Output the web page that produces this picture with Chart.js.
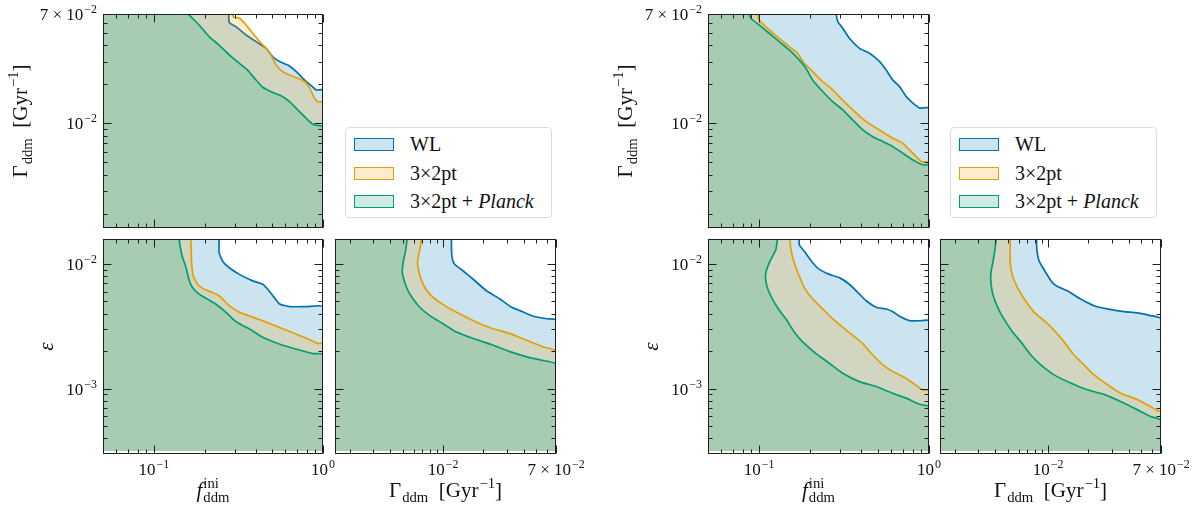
<!DOCTYPE html>
<html>
<head>
<meta charset="utf-8">
<title>Decaying dark matter constraints</title>
<script src="https://cdn.jsdelivr.net/npm/chart.js@4.4.1/dist/chart.umd.min.js"></script>
<style>
  html, body { margin: 0; padding: 0; background: #fff; }
  #figure { position: relative; width: 1200px; height: 511px; overflow: hidden; }
  #figure canvas { position: absolute; left: 0; top: 0; pointer-events: none; }
  .legend {
    position: absolute; width: 205px; height: 89px;
    border: 1px solid #dcdcdc; border-radius: 4px; background: #fff;
    font: 20px "Liberation Serif", "DejaVu Serif", serif; color: #111;
  }
  .legend .entry { position: absolute; left: 8px; height: 22px; display: flex; align-items: center; white-space: nowrap; }
  .legend .patch { display: inline-block; width: 38px; height: 11px; border: 1.5px solid; margin-right: 16px; }
</style>
</head>
<body>
<div id="figure">
  <canvas id="leftTop" width="1200" height="511"></canvas>
  <canvas id="leftBottom" width="1200" height="511"></canvas>
  <canvas id="leftSide" width="1200" height="511"></canvas>
  <canvas id="rightTop" width="1200" height="511"></canvas>
  <canvas id="rightBottom" width="1200" height="511"></canvas>
  <canvas id="rightSide" width="1200" height="511"></canvas>
  <div class="legend" style="left:345px; top:127px;"></div>
  <div class="legend" style="left:950px; top:127px;"></div>
</div>
<script>
// Axis ranges and tick values
const fRange = [0.05, 1];
const gammaRange = [1.55e-3, 7e-2];
const epsRange = [3.16e-4, 1.58e-2];

const fMajorTicks = [0.1, 1];
const fMinorTicks = [0.06, 0.07, 0.08, 0.09, 0.2, 0.3, 0.4, 0.5, 0.6, 0.7, 0.8, 0.9];
const fTickLabels = [['10', '−1'], ['10', '0']];

const gammaMajorTicks = [0.01, 0.07];
const gammaMinorTicks = [0.002, 0.003, 0.004, 0.005, 0.006, 0.007, 0.008, 0.009, 0.02, 0.03, 0.04, 0.05, 0.06];
const gammaTickLabels = [['10', '−2'], ['7 × 10', '−2']];

const epsMajorTicks = [0.001, 0.01];
const epsMinorTicks = [0.0004, 0.0005, 0.0006, 0.0007, 0.0008, 0.0009, 0.002, 0.003, 0.004, 0.005, 0.006, 0.007, 0.008, 0.009];
const epsTickLabels = [['10', '−3'], ['10', '−2']];

const seriesNames = ['WL', '3×2pt', '3×2pt + Planck'];
const lineColors = ['#0072B2', '#E69F00', '#009E73'];
const fillColors = ['rgba(0,114,178,0.2)', 'rgba(230,159,0,0.2)', 'rgba(0,158,115,0.2)'];

// Left figure: f_ddm^ini vs Gamma_ddm  [f, Gamma]
const leftFG_WL = [[0.277,0.0700],[0.279,0.0600],[0.306,0.0558],[0.351,0.0482],[0.402,0.0428],[0.461,0.0380],[0.505,0.0327],[0.553,0.0300],[0.620,0.0282],[0.695,0.0251],[0.778,0.0216],[0.853,0.0195],[0.912,0.0181],[1.0,0.0181]];
const leftFG_3x2 = [[0.292,0.0700],[0.296,0.0661],[0.320,0.0649],[0.351,0.0576],[0.384,0.0497],[0.431,0.0416],[0.461,0.0380],[0.493,0.0338],[0.528,0.0282],[0.578,0.0251],[0.634,0.0236],[0.710,0.0223],[0.778,0.0210],[0.834,0.0187],[0.891,0.0156],[0.933,0.0147],[1.0,0.0145]];
const leftFG_Planck = [[0.159,0.0700],[0.169,0.0649],[0.185,0.0576],[0.212,0.0468],[0.243,0.0403],[0.279,0.0338],[0.320,0.0291],[0.358,0.0258],[0.402,0.0216],[0.440,0.0190],[0.505,0.0173],[0.565,0.0163],[0.634,0.0147],[0.726,0.0123],[0.815,0.0106],[0.891,0.0097],[1.0,0.0094]];

// Left figure: f_ddm^ini vs epsilon  [f, eps]
const leftFE_WL = [[0.243,0.01578],[0.243,0.01222],[0.255,0.01050],[0.279,0.00930],[0.320,0.00823],[0.384,0.00730],[0.440,0.00686],[0.471,0.00626],[0.505,0.00555],[0.553,0.00477],[0.634,0.00454],[0.796,0.00454],[1.0,0.00454]];
const leftFE_3x2 = [[0.165,0.01578],[0.166,0.01380],[0.167,0.01019],[0.171,0.00799],[0.181,0.00686],[0.198,0.00626],[0.222,0.00589],[0.243,0.00555],[0.279,0.00462],[0.320,0.00409],[0.384,0.00374],[0.461,0.00341],[0.578,0.00302],[0.726,0.00267],[0.873,0.00240],[0.933,0.00230],[1.0,0.00230]];
const leftFE_Planck = [[0.141,0.01578],[0.143,0.01380],[0.147,0.01151],[0.154,0.00959],[0.161,0.00752],[0.169,0.00645],[0.185,0.00572],[0.207,0.00522],[0.232,0.00477],[0.267,0.00409],[0.292,0.00363],[0.320,0.00331],[0.366,0.00302],[0.421,0.00267],[0.482,0.00244],[0.578,0.00223],[0.726,0.00204],[0.873,0.00191],[1.0,0.00188]];

// Left figure: Gamma_ddm vs epsilon  [Gamma, eps]
const leftGE_WL = [[0.01155,0.01578],[0.01155,0.01297],[0.01175,0.01082],[0.01224,0.00988],[0.01413,0.00876],[0.01679,0.00752],[0.02113,0.00608],[0.02661,0.00522],[0.03255,0.00449],[0.03758,0.00422],[0.04732,0.00380],[0.05957,0.00363],[0.0700,0.00356]];
const leftGE_3x2 = [[0.00688,0.01578],[0.00676,0.01380],[0.00653,0.01151],[0.00642,0.01019],[0.00661,0.00849],[0.00708,0.00686],[0.00794,0.00572],[0.00944,0.00491],[0.01189,0.00422],[0.01496,0.00374],[0.01884,0.00331],[0.02371,0.00302],[0.03162,0.00276],[0.04217,0.00244],[0.05623,0.00216],[0.0700,0.00200]];
const leftGE_Planck = [[0.00537,0.01578],[0.00525,0.01297],[0.00501,0.01019],[0.00495,0.00849],[0.00516,0.00707],[0.00546,0.00608],[0.00596,0.00522],[0.00668,0.00449],[0.00794,0.00385],[0.0100,0.00331],[0.01259,0.00284],[0.01679,0.00252],[0.02371,0.00223],[0.03162,0.00198],[0.04217,0.00180],[0.05309,0.00170],[0.0700,0.00157]];

// Right figure: f_ddm^ini vs Gamma_ddm  [f, Gamma]
const rightFG_WL = [[0.2837,0.0700],[0.2902,0.0611],[0.3105,0.0543],[0.3398,0.0454],[0.3898,0.0380],[0.4467,0.0348],[0.5117,0.0300],[0.5600,0.0258],[0.6122,0.0216],[0.6709,0.0192],[0.7344,0.0161],[0.8045,0.0143],[0.8810,0.0131],[1.0,0.0131]];
const rightFG_3x2 = [[0.0977,0.0700],[0.100,0.0630],[0.1146,0.0527],[0.1313,0.0454],[0.1504,0.0392],[0.1684,0.0348],[0.1844,0.0291],[0.2066,0.0251],[0.2366,0.0210],[0.2710,0.0181],[0.3105,0.0151],[0.3556,0.0127],[0.4267,0.0103],[0.5117,0.00888],[0.6122,0.00766],[0.7018,0.00700],[0.8045,0.00586],[0.9016,0.00505],[1.0,0.00497]];
const rightFG_Planck = [[0.0873,0.0700],[0.0893,0.0649],[0.100,0.0576],[0.1146,0.0497],[0.1313,0.0428],[0.1504,0.0369],[0.1722,0.0309],[0.1887,0.0266],[0.2066,0.0216],[0.2366,0.0176],[0.2710,0.0147],[0.3105,0.0127],[0.3556,0.0106],[0.4075,0.00888],[0.4670,0.00788],[0.5350,0.00722],[0.6122,0.00660],[0.7018,0.00586],[0.8045,0.00520],[0.9225,0.00476],[1.0,0.00476]];

// Right figure: f_ddm^ini vs epsilon  [f, eps]
const rightFE_WL = [[0.1722,0.01578],[0.1722,0.01422],[0.1844,0.01259],[0.2066,0.01019],[0.2262,0.00902],[0.2590,0.00823],[0.2966,0.00775],[0.3398,0.00686],[0.3898,0.00572],[0.4267,0.00506],[0.4886,0.00449],[0.5600,0.00435],[0.6122,0.00414],[0.6709,0.00380],[0.7683,0.00351],[0.8810,0.00350],[1.0,0.00350]];
const rightFE_3x2 = [[0.1517,0.01578],[0.1538,0.01297],[0.1610,0.01019],[0.1722,0.00799],[0.1844,0.00645],[0.2066,0.00522],[0.2366,0.00435],[0.2710,0.00363],[0.3105,0.00311],[0.3556,0.00267],[0.4075,0.00230],[0.4670,0.00186],[0.5350,0.00155],[0.6122,0.00137],[0.7018,0.00125],[0.8045,0.00111],[0.8810,0.00101],[0.9427,0.00097],[1.0,0.00097]];
const rightFE_Planck = [[0.1283,0.01578],[0.1254,0.01297],[0.1146,0.01019],[0.1095,0.00849],[0.1095,0.00730],[0.1135,0.00608],[0.1227,0.00491],[0.1342,0.00409],[0.1437,0.00363],[0.1610,0.00284],[0.1803,0.00237],[0.2163,0.00191],[0.2590,0.00160],[0.3105,0.00133],[0.3898,0.00114],[0.4886,0.00104],[0.6122,0.00092],[0.7344,0.00084],[0.8810,0.00075],[1.0,0.00072]];

// Right figure: Gamma_ddm vs epsilon  [Gamma, eps]
const rightGE_WL = [[0.00819,0.01578],[0.00823,0.01297],[0.00857,0.01050],[0.00961,0.00849],[0.01077,0.00707],[0.01175,0.00658],[0.01394,0.00608],[0.01753,0.00522],[0.02205,0.00462],[0.02772,0.00435],[0.03690,0.00414],[0.04642,0.00405],[0.05840,0.00385],[0.0700,0.00363]];
const rightGE_3x2 = [[0.00520,0.01578],[0.00520,0.01297],[0.00520,0.01019],[0.00542,0.00799],[0.00590,0.00645],[0.00662,0.00522],[0.00787,0.00409],[0.00961,0.00341],[0.01109,0.00293],[0.01316,0.00237],[0.01563,0.00186],[0.01856,0.00155],[0.02205,0.00129],[0.02772,0.00108],[0.03487,0.00092],[0.04642,0.00082],[0.05840,0.00072],[0.06546,0.00067],[0.0700,0.00066]];
const rightGE_Planck = [[0.00407,0.01578],[0.00400,0.01297],[0.00385,0.01019],[0.00373,0.00849],[0.00373,0.00707],[0.00385,0.00572],[0.00414,0.00462],[0.00443,0.00397],[0.00483,0.00341],[0.00542,0.00284],[0.00625,0.00237],[0.00743,0.00186],[0.00881,0.00155],[0.01109,0.00129],[0.01476,0.00111],[0.01966,0.00098],[0.02617,0.00090],[0.03487,0.00079],[0.04642,0.00068],[0.05840,0.00060],[0.0700,0.00056]];

const SERIF = '"Liberation Serif", "DejaVu Serif", serif';

const axes = {
  f: { range: fRange, major: fMajorTicks, minor: fMinorTicks, labels: fTickLabels,
       title: [{ t: 'f', it: true }, { sub: 'ddm', sup: 'ini' }], titleOffset: 0 },
  gamma: { range: gammaRange, major: gammaMajorTicks, minor: gammaMinorTicks, labels: gammaTickLabels,
       title: [{ t: 'Γ' }, { sub: 'ddm' }, { t: '  [Gyr' }, { sup: '−1' }, { t: ']' }], titleOffset: 76 },
  eps: { range: epsRange, major: epsMajorTicks, minor: epsMinorTicks, labels: epsTickLabels,
       title: [{ t: 'ε', it: true }], titleOffset: 50 }
};

const panels = [
  { id: 'leftTop', box: [103, 14, 323, 228], x: 'f', y: 'gamma', series: [leftFG_WL, leftFG_3x2, leftFG_Planck], xLabels: false, yLabels: true },
  { id: 'leftBottom', box: [103, 239, 323, 454], x: 'f', y: 'eps', series: [leftFE_WL, leftFE_3x2, leftFE_Planck], xLabels: true, yLabels: true },
  { id: 'leftSide', box: [335, 239, 556, 454], x: 'gamma', y: 'eps', series: [leftGE_WL, leftGE_3x2, leftGE_Planck], xLabels: true, yLabels: false },
  { id: 'rightTop', box: [708, 14, 929, 228], x: 'f', y: 'gamma', series: [rightFG_WL, rightFG_3x2, rightFG_Planck], xLabels: false, yLabels: true },
  { id: 'rightBottom', box: [708, 239, 929, 454], x: 'f', y: 'eps', series: [rightFE_WL, rightFE_3x2, rightFE_Planck], xLabels: true, yLabels: true },
  { id: 'rightSide', box: [940, 239, 1161, 454], x: 'gamma', y: 'eps', series: [rightGE_WL, rightGE_3x2, rightGE_Planck], xLabels: true, yLabels: false }
];

/**
 * Small helper for TeX-like labels: tokens are plain text {t}, or a
 * subscript / superscript pair {sub, sup} stacked at the same position.
 */
function tokenFont(size, italic) {
  return (italic ? 'italic ' : '') + size + 'px ' + SERIF;
}

function drawMath(ctx, tokens, x, y, size, align, angle) {
  const small = size * 0.7;
  ctx.save();
  ctx.translate(x, y);
  if (angle) ctx.rotate(angle);
  ctx.textAlign = 'left';
  ctx.textBaseline = 'alphabetic';
  const widths = tokens.map(tk => {
    if (tk.t !== undefined) {
      ctx.font = tokenFont(size, tk.it);
      return ctx.measureText(tk.t).width;
    }
    ctx.font = tokenFont(small, false);
    const w1 = tk.sub ? ctx.measureText(tk.sub).width : 0;
    const w2 = tk.sup ? ctx.measureText(tk.sup).width : 0;
    return Math.max(w1, w2) + 1;
  });
  const total = widths.reduce((s, w) => s + w, 0);
  let cx = align === 'center' ? -total / 2 : (align === 'right' ? -total : 0);
  tokens.forEach((tk, i) => {
    if (tk.t !== undefined) {
      ctx.font = tokenFont(size, tk.it);
      ctx.fillText(tk.t, cx, 0);
    } else {
      ctx.font = tokenFont(small, false);
      if (tk.sub) ctx.fillText(tk.sub, cx + 1, size * 0.24);
      if (tk.sup) ctx.fillText(tk.sup, cx + 1, -size * 0.42);
    }
    cx += widths[i];
  });
  ctx.restore();
}

/**
 * Frame, inward ticks on all four sides, tick labels and axis titles
 */
function makeDecorPlugin(p) {
  return {
    id: 'panelDecor',
    afterDatasetsDraw(chart) {
      const { ctx, chartArea: a } = chart;
      const xs = chart.scales.x;
      const ys = chart.scales.y;
      const xa = axes[p.x];
      const ya = axes[p.y];
      const L = Math.round(a.left) + 0.5, R = Math.round(a.right) - 0.5;
      const T = Math.round(a.top) + 0.5, B = Math.round(a.bottom) - 0.5;

      ctx.save();
      ctx.strokeStyle = '#1e1e1e';
      ctx.lineWidth = 1;
      ctx.beginPath();
      const xTick = (v, len) => {
        const px = Math.round(xs.getPixelForValue(v)) + 0.5;
        ctx.moveTo(px, B); ctx.lineTo(px, B - len);
        ctx.moveTo(px, T); ctx.lineTo(px, T + len);
      };
      const yTick = (v, len) => {
        const py = Math.round(ys.getPixelForValue(v)) + 0.5;
        ctx.moveTo(L, py); ctx.lineTo(L + len, py);
        ctx.moveTo(R, py); ctx.lineTo(R - len, py);
      };
      xa.minor.forEach(v => xTick(v, 4));
      xa.major.forEach(v => xTick(v, 8));
      ya.minor.forEach(v => yTick(v, 4));
      ya.major.forEach(v => yTick(v, 8));
      ctx.stroke();
      ctx.strokeRect(L, T, R - L, B - T);

      ctx.fillStyle = '#111';
      if (p.xLabels) {
        xa.major.forEach((v, i) => {
          drawMath(ctx, [{ t: xa.labels[i][0] }, { sup: xa.labels[i][1] }], xs.getPixelForValue(v), a.bottom + 21, 17, 'center');
        });
        drawMath(ctx, xa.title, (a.left + a.right) / 2, 497, 21, 'center');
      }
      if (p.yLabels) {
        ya.major.forEach((v, i) => {
          drawMath(ctx, [{ t: ya.labels[i][0] }, { sup: ya.labels[i][1] }], a.left - 6, ys.getPixelForValue(v) + 6, 17, 'right');
        });
        drawMath(ctx, ya.title, a.left - ya.titleOffset, (a.top + a.bottom) / 2, 21, 'center', -Math.PI / 2);
      }
      ctx.restore();
    }
  };
}

// Each contour runs from the top edge down to the right edge; the excluded
// region lies to its left, so the line is filled horizontally to the left edge.
// The closing run down the right edge sits under the frame line.
function buildDataset(points, i, xa, ya) {
  const data = points.map(pt => ({ x: pt[0], y: pt[1] }));
  data.push({ x: xa.range[1], y: ya.range[0] });
  return {
    label: seriesNames[i],
    data: data,
    borderColor: lineColors[i],
    backgroundColor: fillColors[i],
    borderWidth: 1.7,
    fill: { value: xa.range[0] },
    tension: 0.15,
    pointRadius: 0,
    order: 3 - i,
    clip: 0
  };
}

function makePanel(p) {
  const xa = axes[p.x];
  const ya = axes[p.y];
  const [left, top, right, bottom] = p.box;
  return new Chart(document.getElementById(p.id), {
    type: 'line',
    data: { datasets: p.series.map((s, i) => buildDataset(s, i, xa, ya)) },
    options: {
      indexAxis: 'y',
      responsive: false,
      animation: false,
      events: [],
      layout: { padding: { left: left, top: top, right: 1200 - right, bottom: 511 - bottom } },
      plugins: { legend: { display: false }, tooltip: { enabled: false } },
      scales: {
        x: { type: 'logarithmic', min: xa.range[0], max: xa.range[1], display: false },
        y: { type: 'logarithmic', min: ya.range[0], max: ya.range[1], display: false }
      }
    },
    plugins: [makeDecorPlugin(p)]
  });
}

function buildLegend(el) {
  const tops = [5, 34, 62];
  seriesNames.forEach((name, i) => {
    const entry = document.createElement('div');
    entry.className = 'entry';
    entry.style.top = tops[i] + 'px';
    const patch = document.createElement('span');
    patch.className = 'patch';
    patch.style.borderColor = lineColors[i];
    patch.style.background = fillColors[i];
    const text = document.createElement('span');
    if (name.endsWith('Planck')) {
      text.innerHTML = name.replace('Planck', '<i>Planck</i>');
    } else {
      text.textContent = name;
    }
    entry.appendChild(patch);
    entry.appendChild(text);
    el.appendChild(entry);
  });
}

document.addEventListener('DOMContentLoaded', function() {
  panels.forEach(makePanel);
  document.querySelectorAll('.legend').forEach(buildLegend);
});
</script>
</body>
</html>
